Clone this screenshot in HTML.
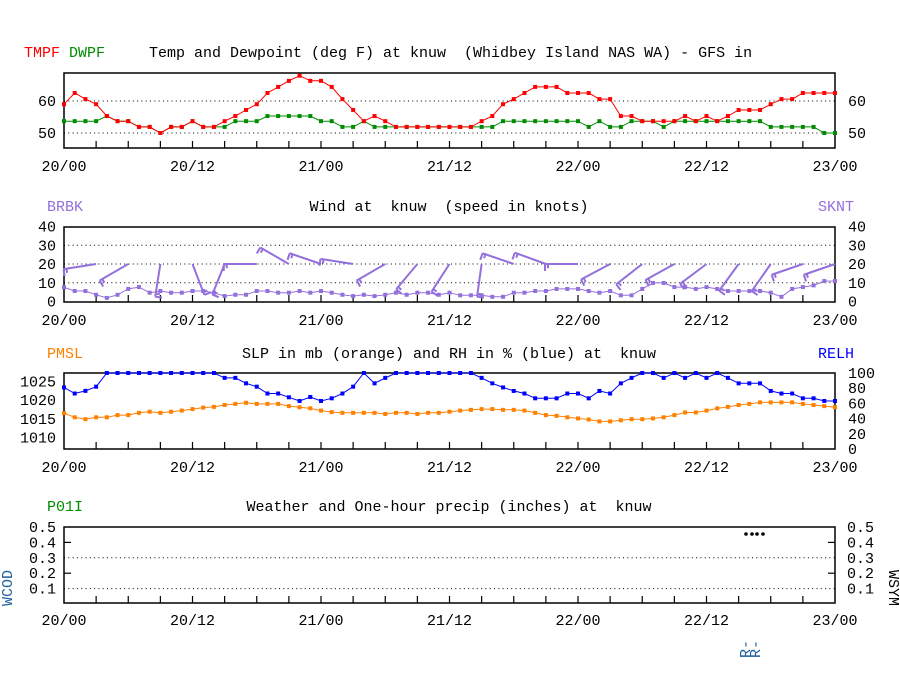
<!DOCTYPE html>
<html><head><meta charset="utf-8"><style>
html,body{margin:0;padding:0;background:#fff}
svg{display:block}
text{font-family:"Liberation Mono",monospace;font-size:15px;white-space:pre}
</style></head><body>
<svg id="c" width="900" height="700" viewBox="0 0 900 700" xml:space="preserve"></svg>
<script>
const timeLabels=["20/00","20/12","21/00","21/12","22/00","22/12","23/00"];
const tmpf=[59,62.5,60.6,59,55.3,53.7,53.7,51.9,51.9,50,51.9,51.9,53.7,51.9,51.9,53.7,55.3,57.2,59,62.5,64.4,66.3,67.9,66.3,66.3,64.4,60.6,57.2,53.7,55.3,53.7,51.9,51.9,51.9,51.9,51.9,51.9,51.9,51.9,53.7,55.3,59,60.6,62.5,64.4,64.4,64.4,62.5,62.5,62.5,60.6,60.6,55.3,55.3,53.7,53.7,53.7,53.7,55.3,53.7,55.3,53.7,55.3,57.2,57.2,57.2,59,60.6,60.6,62.5,62.5,62.5,62.5];
const dwpf=[53.7,53.7,53.7,53.7,55.3,53.7,53.7,51.9,51.9,50,51.9,51.9,53.7,51.9,51.9,51.9,53.7,53.7,53.7,55.3,55.3,55.3,55.3,55.3,53.7,53.7,51.9,51.9,53.7,51.9,51.9,51.9,51.9,51.9,51.9,51.9,51.9,51.9,51.9,51.9,51.9,53.7,53.7,53.7,53.7,53.7,53.7,53.7,53.7,51.9,53.7,51.9,51.9,53.7,53.7,53.7,51.9,53.7,53.7,53.7,53.7,53.7,53.7,53.7,53.7,53.7,51.9,51.9,51.9,51.9,51.9,50,50];
const sknt=[7.6,5.6,5.6,3.6,1.9,3.6,6.7,7.7,4.7,5.6,4.7,4.7,5.6,5.6,4.7,2.9,3.6,3.6,5.6,5.6,4.7,4.7,5.6,4.7,5.6,4.7,3.6,2.9,3.6,2.9,3.6,4.7,3.6,4.7,4.7,3.6,4.7,3.3,3.3,3.3,2.5,2.5,4.7,4.7,5.6,5.6,6.7,6.7,6.7,5.6,4.7,5.6,3.3,3.3,6.7,9.9,9.9,7.7,7.7,6.7,7.7,6.7,5.6,5.6,5.6,5.6,4.7,2.5,6.7,7.7,8.6,10.9,10.9];
const windDir=[null,261,240,189,159,202,270,300,289,279,240,220,213,188,289,290,270,242,232,241,233,216,215,251,251];
const pmsl=[1016.5,1015.4,1014.9,1015.4,1015.4,1016,1016,1016.6,1016.9,1016.6,1016.9,1017.2,1017.6,1018,1018.2,1018.7,1019,1019.3,1019,1019,1019,1018.4,1018.1,1017.8,1017.2,1016.8,1016.6,1016.6,1016.6,1016.6,1016.3,1016.6,1016.6,1016.3,1016.6,1016.6,1016.9,1017.2,1017.4,1017.6,1017.6,1017.4,1017.4,1017.2,1016.6,1016,1015.8,1015.4,1015.1,1014.8,1014.3,1014.3,1014.6,1014.9,1014.9,1015.1,1015.4,1016,1016.7,1016.7,1017.2,1017.8,1018.2,1018.7,1019,1019.4,1019.4,1019.4,1019.4,1019,1018.7,1018.4,1018.1];
const relh=[81,73,76.5,82,100,100,100,100,100,100,100,100,100,100,100,93.6,93.6,86.4,82,73,73,68,63.2,68.4,63.2,66.7,73,82,100,86.4,93.6,100,100,100,100,100,100,100,100,93.6,86.4,81,76.4,73,66.7,66.7,66.7,73,73,66.7,76.4,73,86.4,93.6,100,100,93.6,100,93.6,100,93.6,100,93.6,86.4,86.4,86.4,76.4,73,73,66.7,66.7,63.2,63.2];
const t1Ticks=[50,60];const t2Ticks=[0,10,20,30,40];const slpTicks=[1010,1015,1020,1025];const rhTicks=[0,20,40,60,80,100];const pTicks=[0.1,0.2,0.3,0.4,0.5];

const svg=document.getElementById('c');const NS='http://www.w3.org/2000/svg';
function mk(tag,attrs,parent){const e=document.createElementNS(NS,tag);for(const k in attrs)e.setAttribute(k,attrs[k]);(parent||svg).appendChild(e);return e;}
function txt(s,x,y,fill,anchor,name){const t=mk('text',{x:x,y:y,fill:fill||'#000','text-anchor':anchor||'start'});t.textContent=s;


return t;}
const X0=64,X1=835;
function xs(i){return X0+i*(X1-X0)/72;}

function frame(top,bot,name){
 const g=mk('g',{});
 
 
 mk('rect',{x:X0,y:top,width:X1-X0,height:bot-top,fill:'none',stroke:'#000','stroke-width':1.5},g);
 for(let k=1;k<24;k++){const x=xs(k*3);mk('line',{x1:x,x2:x,y1:bot,y2:bot-7,stroke:'#000','stroke-width':1.2},g);}
 return g;}
function xlabels(y,name){timeLabels.forEach((l,j)=>{txt(l,xs(j*12),y,'#000','middle',name);});}
function grid(y,g){mk('line',{x1:X0,x2:X1,y1:y,y2:y,stroke:'#000','stroke-width':1,'stroke-dasharray':'1,3.3'},g);}
function series(vals,ys,color,name){
 const g=mk('g',{});
 
 
 let d='';vals.forEach((v,i)=>{d+=(i?'L':'M')+xs(i).toFixed(1)+','+ys(v).toFixed(1);});
 mk('path',{d:d,fill:'none',stroke:color,'stroke-width':1},g);
 vals.forEach((v,i)=>{mk('rect',{x:xs(i)-2,y:ys(v)-2,width:4,height:4,fill:color},g);});
}

// Panel 1
const y1=v=>101-(v-60)*3.2;
const g1=frame(73,148,'temp-panel');
t1Ticks.forEach(t=>{grid(y1(t),g1);txt(String(t),56,y1(t)+5,'#000','end','temp-left-tick');txt(String(t),848,y1(t)+5,'#000','start','temp-right-tick');});
txt('TMPF',24,57,'#ff0000','start','tmpf-legend');txt('DWPF',69,57,'#008c00','start','dwpf-legend');
txt('Temp and Dewpoint (deg F) at knuw  (Whidbey Island NAS WA) - GFS in',149,57,'#000','start','temp-title');
series(dwpf,y1,'#008c00','dwpf-line');series(tmpf,y1,'#ff0000','tmpf-line');
xlabels(171,'temp-x-label');

// Panel 2
const y2=v=>301.5-v*1.875;
const g2=frame(227,302,'wind-panel');
t2Ticks.forEach(t=>{if(t>0&&t<40)grid(y2(t),g2);txt(String(t),56,y2(t)+5,'#000','end','wind-left-tick');txt(String(t),848,y2(t)+5,'#000','start','wind-right-tick');});
txt('BRBK',47,211,'#9370db','start','brbk-legend');txt('SKNT',818,211,'#9370db','start','sknt-legend');
txt('Wind at  knuw  (speed in knots)',449,211,'#000','middle','wind-title');
series(sknt,y2,'#9370db','sknt-line');
const gb=mk('g',{});


windDir.forEach((d,k)=>{if(d===null)return;const bx=xs(k*3),by=y2(20);const r=d*Math.PI/180;const L=33;
 const ex=bx+L*Math.sin(r),ey=by-L*Math.cos(r);
 mk('line',{x1:bx,y1:by,x2:ex,y2:ey,stroke:'#9370db','stroke-width':2},gb);
 const px=-Math.cos(r)*7,py=-Math.sin(r)*7;const mx=bx+(L-3)*Math.sin(r),my=by-(L-3)*Math.cos(r);
 mk('line',{x1:ex,y1:ey,x2:ex+px,y2:ey+py,stroke:'#9370db','stroke-width':2},gb);
 mk('line',{x1:mx,y1:my,x2:mx+px*0.6,y2:my+py*0.6,stroke:'#9370db','stroke-width':2},gb);
});
xlabels(325,'wind-x-label');

// Panel 3
const y3=v=>381.5-(v-1025)*3.73;const y3r=v=>449-v*0.76;
const g3=frame(373,449,'slp-rh-panel');
slpTicks.forEach(t=>{txt(String(t),56,y3(t)+5,'#000','end','slp-tick');});
rhTicks.forEach(t=>{txt(String(t),848,y3r(t)+5,'#000','start','rh-tick');});
txt('PMSL',47,358,'#ff8000','start','pmsl-legend');txt('RELH',818,358,'#0000ff','start','relh-legend');
txt('SLP in mb (orange) and RH in % (blue) at  knuw',449,358,'#000','middle','slp-title');
series(pmsl,y3,'#ff8000','pmsl-line');series(relh,y3r,'#0000ff','relh-line');
xlabels(472,'slp-x-label');

// Panel 4
const y4=v=>604-v*154;
const g4=frame(527,603,'precip-panel');
pTicks.forEach(t=>{if(t===0.1||t===0.3)grid(y4(t),g4);else if(t<0.5){mk('line',{x1:X0,x2:X0+7,y1:y4(t),y2:y4(t),stroke:'#000','stroke-width':1.2},g4);mk('line',{x1:X1,x2:X1-7,y1:y4(t),y2:y4(t),stroke:'#000','stroke-width':1.2},g4);}
 txt(t.toFixed(1),56,y4(t)+5,'#000','end','precip-left-tick');txt(t.toFixed(1),847,y4(t)+5,'#000','start','precip-right-tick');});
txt('P01I',47,511,'#008c00','start','p01i-legend');
txt('Weather and One-hour precip (inches) at  knuw',449,511,'#000','middle','precip-title');
[746,752,757,763].forEach(x=>{mk('circle',{cx:x,cy:534,r:1.8,fill:'#000'},g4);});
xlabels(625,'precip-x-label');
const w1=txt('WCOD',12,588,'#1f5f9f','middle','wcod-label');w1.setAttribute('transform','rotate(-90 12 588)');w1.setAttribute('font-size','12');
const w2=txt('WSYM',889,588,'#000','middle','wsym-label');w2.setAttribute('transform','rotate(90 889 588)');w2.setAttribute('font-size','12');
[750,760].forEach(x=>{const r=txt('R-',x,649,'#1f5f9f','middle','weather-code');r.setAttribute('transform','rotate(-90 '+x+' 649)');r.setAttribute('font-size','10');});
</script>
</body></html>
